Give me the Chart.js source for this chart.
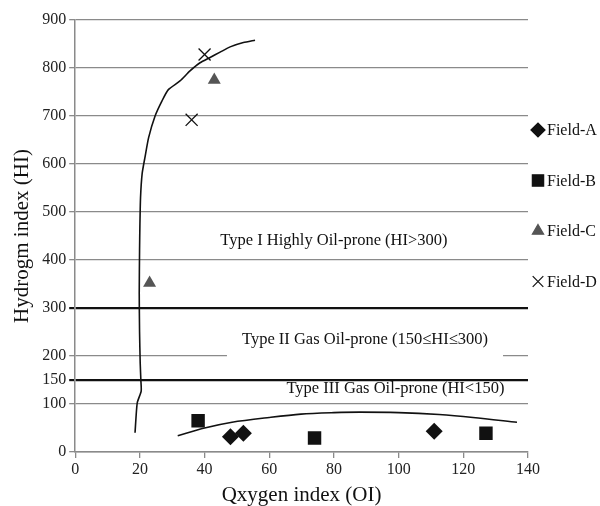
<!DOCTYPE html>
<html>
<head>
<meta charset="utf-8">
<script src="https://cdn.jsdelivr.net/npm/chart.js@4.4.1/dist/chart.umd.min.js"></script>
<style>
  html, body { margin: 0; padding: 0; background: #fff; }
  #wrap { width: 600px; height: 506px; }
</style>
</head>
<body>
<div id="wrap"><canvas id="kerogenChart"></canvas></div>
<script>
// sample points (OI, HI)
const fieldA = [{x: 48, y: 32}, {x: 52, y: 39}, {x: 111, y: 43}];
const fieldB = [{x: 38, y: 65}, {x: 74, y: 29}, {x: 127, y: 39}];
const fieldC = [{x: 23, y: 352}, {x: 43, y: 775}];
const fieldD = [{x: 36, y: 692}, {x: 40, y: 828}];

// hand drawn boundary curves
const curveTypeI = [
    {x: 18.5, y: 40}, {x: 18.8, y: 72}, {x: 19.2, y: 103}, {x: 20.4, y: 127},
    {x: 20.3, y: 150}, {x: 20.1, y: 185}, {x: 19.9, y: 250}, {x: 19.8, y: 330},
    {x: 19.9, y: 420}, {x: 20.0, y: 470}, {x: 20.2, y: 530}, {x: 20.7, y: 580},
    {x: 21.6, y: 615}, {x: 22.7, y: 655}, {x: 24.7, y: 700}, {x: 26.8, y: 731},
    {x: 28.8, y: 755}, {x: 32.4, y: 773}, {x: 35.5, y: 794}, {x: 38.6, y: 811},
    {x: 41.7, y: 822}, {x: 44.8, y: 833}, {x: 47.9, y: 844}, {x: 52.0, y: 853},
    {x: 55.6, y: 858}
];
const curveTypeIII = [
    {x: 31.7, y: 34}, {x: 40, y: 50}, {x: 48.5, y: 62}, {x: 60, y: 72},
    {x: 69.8, y: 79}, {x: 80, y: 82}, {x: 88, y: 83}, {x: 100, y: 82},
    {x: 112.5, y: 78}, {x: 123, y: 72}, {x: 136.6, y: 62}
];

const yTickValues = [0, 100, 150, 200, 300, 400, 500, 600, 700, 800, 900];
const boundaryValues = [150, 300];

// zone labels: [text, OI, HI]
const zoneLabels = [
    ["Type I Highly Oil-prone (HI>300)", 80, 440],
    ["Type II Gas Oil-prone (150\u2264HI\u2264300)", 89.6, 235],
    ["Type III Gas Oil-prone (HI<150)", 99, 131]
];

const serif = "'Liberation Serif', 'Times New Roman', serif";

const zonePlugin = {
    id: "zoneText",
    beforeDatasetsDraw(chart) {
        const ctx = chart.ctx;
        const xs = chart.scales.x, ys = chart.scales.y;
        ctx.save();
        ctx.font = "16.5px " + serif;
        ctx.textAlign = "center";
        ctx.textBaseline = "middle";
        zoneLabels.forEach((z, i) => {
            const px = xs.getPixelForValue(z[1]);
            const py = ys.getPixelForValue(z[2]);
            if (i === 1) {
                // white text box hides the 200 grid line
                const w = ctx.measureText(z[0]).width + 30;
                ctx.fillStyle = "#fff";
                ctx.fillRect(px - w / 2, py - 11, w, 30);
            }
            ctx.fillStyle = "#111";
            ctx.fillText(z[0], px, py);
        });
        ctx.restore();
    }
};

const legendPlugin = {
    id: "sideLegend",
    afterDraw(chart) {
        const ctx = chart.ctx;
        const area = chart.chartArea;
        const items = chart.data.datasets.filter(d => d.legend);
        ctx.save();
        ctx.font = "16px " + serif;
        ctx.textBaseline = "middle";
        ctx.textAlign = "left";
        items.forEach((d, i) => {
            const x = area.right + 10;
            const y = area.top + 110 + i * 50.5;
            ctx.fillStyle = d.backgroundColor;
            ctx.strokeStyle = d.borderColor;
            ctx.lineWidth = 1.2;
            Chart.helpers.drawPoint(ctx, {
                pointStyle: d.pointStyle,
                radius: d.legendRadius,
                rotation: 0,
                borderWidth: 1.2
            }, x, y);
            ctx.fillStyle = "#111";
            ctx.fillText(d.label, x + 9, y + 1);
        });
        ctx.restore();
    }
};

function isBoundary(c) {
    return c.tick && boundaryValues.includes(c.tick.value);
}

let ctx = document.getElementById("kerogenChart").getContext("2d");
let kerogenChart = new Chart(ctx, {
    type: "scatter",
    data: {
        datasets: [
            {
                label: "Field-A", legend: true, data: fieldA,
                pointStyle: "rectRot", pointRadius: 8.5, legendRadius: 7,
                backgroundColor: "#111", borderColor: "#111", borderWidth: 0
            },
            {
                label: "Field-B", legend: true, data: fieldB,
                pointStyle: "rect", pointRadius: 9.5, legendRadius: 8,
                backgroundColor: "#111", borderColor: "#111", borderWidth: 0
            },
            {
                label: "Field-C", legend: true, data: fieldC,
                pointStyle: "triangle", pointRadius: 7.5, legendRadius: 6.5,
                backgroundColor: "#555", borderColor: "#555", borderWidth: 0
            },
            {
                label: "Field-D", legend: true, data: fieldD,
                pointStyle: "crossRot", pointRadius: 8.5, legendRadius: 7.5,
                backgroundColor: "#111", borderColor: "#111", borderWidth: 1.3
            },
            {
                label: "curve1", data: curveTypeI, showLine: true, pointRadius: 0,
                borderColor: "#111", borderWidth: 1.6, tension: 0.2
            },
            {
                label: "curve2", data: curveTypeIII, showLine: true, pointRadius: 0,
                borderColor: "#111", borderWidth: 1.6, tension: 0.3
            }
        ]
    },
    options: {
        responsive: true,
        maintainAspectRatio: false,
        animation: false,
        layout: { padding: { left: 6, right: 72, top: 20, bottom: 0 } },
        plugins: {
            legend: { display: false },
            tooltip: { enabled: false }
        },
        scales: {
            x: {
                type: "linear",
                min: 0,
                max: 140,
                ticks: {
                    stepSize: 20,
                    padding: 4,
                    color: "#222",
                    font: { family: serif, size: 16, lineHeight: 1.0 }
                },
                grid: {
                    drawOnChartArea: false,
                    drawTicks: true,
                    tickLength: 6,
                    color: "#8a8a8a",
                    lineWidth: 1.3
                },
                border: { color: "#8a8a8a", width: 1.5 },
                title: {
                    display: true,
                    text: "Qxygen index (OI)",
                    color: "#111",
                    font: { family: serif, size: 21, lineHeight: 1.0 },
                    padding: { top: 3, bottom: 0 }
                }
            },
            y: {
                type: "linear",
                min: 0,
                max: 900,
                afterBuildTicks: (scale) => {
                    scale.ticks = yTickValues.map(v => ({ value: v }));
                },
                ticks: {
                    padding: 3,
                    color: "#222",
                    font: { family: serif, size: 16 }
                },
                grid: {
                    tickLength: 6,
                    color: (c) => isBoundary(c) ? "#111" : "#8a8a8a",
                    lineWidth: (c) => isBoundary(c) ? 2.2 : 1.3
                },
                border: { color: "#8a8a8a", width: 1.5 },
                title: {
                    display: true,
                    text: "Hydrogm index (HI)",
                    color: "#111",
                    font: { family: serif, size: 21 },
                    padding: { top: 4, bottom: 4 }
                }
            }
        }
    },
    plugins: [zonePlugin, legendPlugin]
});
</script>
</body>
</html>
